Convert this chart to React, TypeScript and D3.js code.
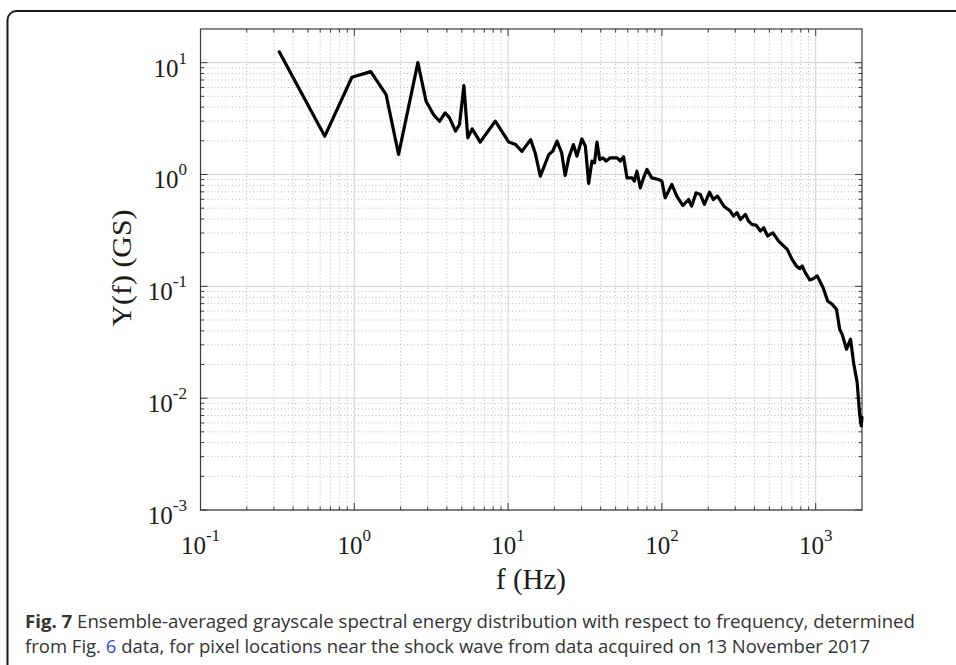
import React from "react";
import * as d3 from "d3";

const freqs = [
  0.325, 0.643, 0.965, 1.28, 1.61, 1.94, 2.59, 2.93, 3.27, 3.58, 3.9, 4.16, 4.55, 4.83, 5.16, 5.47, 5.84, 6.59, 8.25,
  10.1, 11.2, 12.3, 14.0, 15.0, 16.2, 18.4, 19.5, 20.8, 22.3, 23.5, 24.8, 26.6, 28.0, 30.2, 31.8, 33.4, 35.1, 36.5,
  37.8, 39.4, 41.3, 43.4, 46.1, 51.1, 53.7, 56.3, 59.3, 64.0, 66.2, 68.8, 72.4, 76.0, 80.0, 85.9, 95.3, 100, 105,
  116, 125, 137, 149, 156, 167, 178, 189, 204, 216, 230, 253, 278, 292, 308, 324, 349, 366, 385, 411, 437, 459, 487,
  527, 574, 653, 702, 749, 788, 816, 857, 915, 962, 1023, 1117, 1197, 1279, 1365, 1432, 1486, 1586, 1685, 1769, 1861,
  1926, 1976, 2000,
];
const values = [
  12.5, 2.2, 7.4, 8.32, 5.18, 1.51, 10.0, 4.51, 3.44, 2.99, 3.56, 3.21, 2.44, 2.79, 6.24, 2.13, 2.56, 1.95, 3.0,
  1.95, 1.85, 1.61, 2.05, 1.56, 0.966, 1.51, 1.61, 1.99, 1.56, 0.98, 1.41, 1.85, 1.46, 2.08, 1.79, 0.832, 1.32, 1.27,
  1.95, 1.36, 1.41, 1.32, 1.41, 1.41, 1.32, 1.44, 0.933, 0.933, 0.871, 1.07, 0.76, 0.933, 1.11, 0.933, 0.902, 0.871,
  0.619, 0.815, 0.641, 0.528, 0.598, 0.521, 0.685, 0.662, 0.54, 0.695, 0.598, 0.641, 0.521, 0.471, 0.425, 0.455,
  0.396, 0.44, 0.383, 0.358, 0.351, 0.312, 0.334, 0.282, 0.301, 0.254, 0.214, 0.174, 0.152, 0.144, 0.152, 0.132,
  0.114, 0.117, 0.124, 0.0973, 0.074, 0.069, 0.0624, 0.0413, 0.0372, 0.0274, 0.0337, 0.0201, 0.0138, 0.00745,
  0.00566, 0.00673,
];
const xTickExps = [-1, 0, 1, 2, 3];
const yTickExps = [1, 0, -1, -2, -3];
const xDomain = [0.1, 2000];
const yDomain = [1e-3, 20];
const xLabel = "f (Hz)";
const yLabel = "Y(f) (GS)";
const captionBold = "Fig. 7";
const captionLine1 = " Ensemble-averaged grayscale spectral energy distribution with respect to frequency, determined";
const captionLine2a = "from Fig. ";
const captionLink = "6";
const captionLine2b = " data, for pixel locations near the shock wave from data acquired on 13 November 2017";

const L = 200.5, R = 862, T = 29, B = 510;

function minorValues(domain: number[]) {
  const out: number[] = [];
  const lo = Math.floor(Math.log10(domain[0]));
  const hi = Math.ceil(Math.log10(domain[1]));
  for (let k = lo; k <= hi; k++) {
    for (let m = 2; m <= 9; m++) {
      const v = m * Math.pow(10, k);
      if (v > domain[0] && v < domain[1]) out.push(v);
    }
  }
  return out;
}

export default function App() {
  const x = d3.scaleLog().domain(xDomain).range([L, R]);
  const y = d3.scaleLog().domain(yDomain).range([B, T]);
  const line = d3
    .line<number>()
    .x((_, i) => x(freqs[i]))
    .y((d) => y(d));
  const xMinor = minorValues(xDomain);
  const yMinor = minorValues(yDomain);
  const serif = "'Liberation Serif', 'Times New Roman', serif";
  const sans = "'Open Sans', 'Noto Sans', sans-serif";
  const axisColor = "#3a3a3a";

  return (
    <svg width={956} height={665} style={{ position: "absolute", left: 0, top: 0, background: "#fff" }}>
      <rect x={0} y={0} width={956} height={665} fill="#fff" />
      {/* frame */}
      <rect x={7.5} y={11} width={1000} height={700} rx={9} ry={9} fill="none" stroke="#1a1a1a" strokeWidth={2} />

      {/* minor grid */}
      <g stroke="#bdbdbd" strokeWidth={1} strokeDasharray="1,2.5">
        {xMinor.map((v, i) => (
          <line key={"xm" + i} x1={x(v)} x2={x(v)} y1={T} y2={B} />
        ))}
        {yMinor.map((v, i) => (
          <line key={"ym" + i} x1={L} x2={R} y1={y(v)} y2={y(v)} />
        ))}
      </g>
      {/* major grid */}
      <g stroke="#d2d2d2" strokeWidth={1}>
        {xTickExps.map((e) => (
          <line key={"xg" + e} x1={x(Math.pow(10, e))} x2={x(Math.pow(10, e))} y1={T} y2={B} />
        ))}
        {yTickExps.map((e) => (
          <line key={"yg" + e} x1={L} x2={R} y1={y(Math.pow(10, e))} y2={y(Math.pow(10, e))} />
        ))}
      </g>

      {/* ticks */}
      <g stroke={axisColor} strokeWidth={1}>
        {xMinor.map((v, i) => (
          <g key={"xt" + i}>
            <line x1={x(v)} x2={x(v)} y1={B} y2={B - 3.5} />
            <line x1={x(v)} x2={x(v)} y1={T} y2={T + 3.5} />
          </g>
        ))}
        {xTickExps.map((e) => (
          <g key={"xT" + e}>
            <line x1={x(Math.pow(10, e))} x2={x(Math.pow(10, e))} y1={B} y2={B - 7} />
            <line x1={x(Math.pow(10, e))} x2={x(Math.pow(10, e))} y1={T} y2={T + 7} />
          </g>
        ))}
        {yMinor.map((v, i) => (
          <g key={"yt" + i}>
            <line x1={L} x2={L + 3.5} y1={y(v)} y2={y(v)} />
            <line x1={R} x2={R - 3.5} y1={y(v)} y2={y(v)} />
          </g>
        ))}
        {yTickExps.map((e) => (
          <g key={"yT" + e}>
            <line x1={L} x2={L + 7} y1={y(Math.pow(10, e))} y2={y(Math.pow(10, e))} />
            <line x1={R} x2={R - 7} y1={y(Math.pow(10, e))} y2={y(Math.pow(10, e))} />
          </g>
        ))}
      </g>
      <rect x={L} y={T} width={R - L} height={B - T} fill="none" stroke={axisColor} strokeWidth={1.2} />

      {/* data line */}
      <path d={line(values) || ""} fill="none" stroke="#000" strokeWidth={3.2} strokeLinejoin="round" strokeLinecap="round" />

      {/* x tick labels */}
      <g fontFamily={serif} fill="#1a1a1a">
        {xTickExps.map((e) => (
          <text key={"xl" + e} x={x(Math.pow(10, e))} y={554} textAnchor="middle" fontSize={25}>
            10
            <tspan fontSize={17} dy={-13}>{String(e)}</tspan>
          </text>
        ))}
        {yTickExps.map((e) => (
          <text key={"yl" + e} x={187} y={y(Math.pow(10, e)) + 14} textAnchor="end" fontSize={25}>
            10
            <tspan fontSize={17} dy={-13}>{String(e)}</tspan>
          </text>
        ))}
        <text x={531} y={589} textAnchor="middle" fontSize={29}>
          {xLabel}
        </text>
        <text
          transform={`translate(131, 268) rotate(-90)`}
          textAnchor="middle"
          fontSize={27}
          textLength={117}
          lengthAdjust="spacingAndGlyphs"
        >
          {yLabel}
        </text>
      </g>

      {/* caption */}
      <g fontFamily={sans} fontSize={18} fill="#333">
        <text x={25} y={628} textLength={890} lengthAdjust="spacingAndGlyphs">
          <tspan fontWeight="bold">{captionBold}</tspan>
          {captionLine1}
        </text>
        <text x={25} y={653} textLength={845} lengthAdjust="spacingAndGlyphs">
          {captionLine2a}
          <tspan fill="#2a4dd6">{captionLink}</tspan>
          {captionLine2b}
        </text>
      </g>
    </svg>
  );
}
